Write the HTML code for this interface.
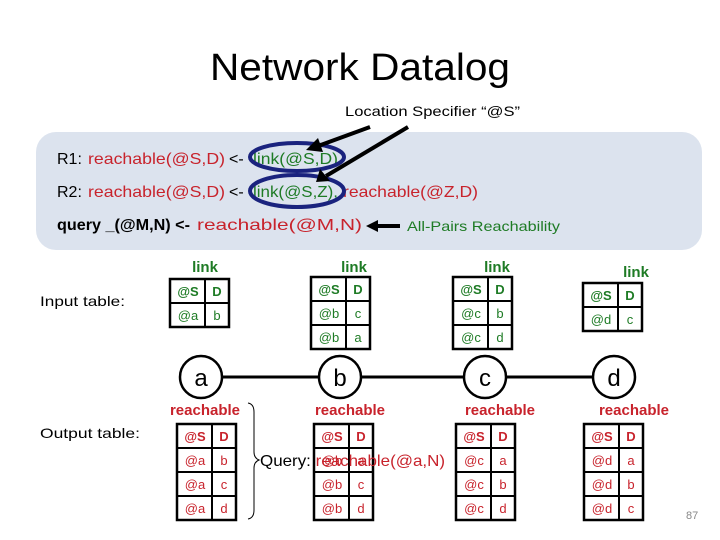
<!DOCTYPE html>
<html><head><meta charset="utf-8"><style>
html,body{margin:0;padding:0;background:#fff;}
svg{display:block;font-family:"Liberation Sans",sans-serif;}
.g{fill:#1e7b25}.r{fill:#c8232c}.k{fill:#000}
</style></head><body>
<svg width="720" height="540" viewBox="0 0 720 540" xmlns="http://www.w3.org/2000/svg">
<text x="210" y="80" textLength="300" lengthAdjust="spacingAndGlyphs" font-size="38" class="k">Network Datalog</text>
<text x="345" y="116" textLength="175" lengthAdjust="spacingAndGlyphs" font-size="14" class="k">Location Specifier “@S”</text>
<rect x="36" y="132" width="666" height="118" rx="20" fill="#dce3ee"/>
<g font-size="16">
<text x="57" y="164" class="k">R1:</text>
<text x="88" y="164" class="r" textLength="137" lengthAdjust="spacingAndGlyphs">reachable(@S,D)</text>
<text x="229" y="164" class="k">&lt;-</text>
<text x="253" y="164" class="g" textLength="85" lengthAdjust="spacingAndGlyphs">link(@S,D)</text>
<text x="57" y="197" class="k">R2:</text>
<text x="88" y="197" class="r" textLength="137" lengthAdjust="spacingAndGlyphs">reachable(@S,D)</text>
<text x="229" y="197" class="k">&lt;-</text>
<text x="253" y="197" class="g" textLength="85" lengthAdjust="spacingAndGlyphs">link(@S,Z),</text>
<text x="343" y="197" class="r" textLength="135" lengthAdjust="spacingAndGlyphs">reachable(@Z,D)</text>
<text x="57" y="230" font-weight="bold" class="k" textLength="133" lengthAdjust="spacingAndGlyphs">query _(@M,N) &lt;-</text>
<text x="197" y="230" class="r" textLength="165" lengthAdjust="spacingAndGlyphs">reachable(@M,N)</text>
</g>
<text x="407" y="231" font-size="14" class="g" textLength="153" lengthAdjust="spacingAndGlyphs">All-Pairs Reachability</text>
<g fill="none" stroke="#1a237e" stroke-width="4">
<ellipse cx="297" cy="157" rx="47" ry="14"/>
<ellipse cx="297" cy="191" rx="47" ry="16"/>
</g>
<g stroke="#000" stroke-width="4">
<line x1="370" y1="127" x2="318" y2="146"/>
<line x1="408" y1="127" x2="326" y2="176"/>
<line x1="400" y1="226" x2="375" y2="226"/>
</g>
<polygon points="306,150 318,138 323,152" fill="#000"/>
<polygon points="316,182 320,169 330,181" fill="#000"/>
<polygon points="366,226 378,220 378,232" fill="#000"/>

<text x="40" y="306" font-size="14" class="k" textLength="85" lengthAdjust="spacingAndGlyphs">Input table:</text>
<text x="40" y="438" font-size="14" class="k" textLength="100" lengthAdjust="spacingAndGlyphs">Output table:</text>

<g font-size="15" font-weight="bold" class="g" text-anchor="middle">
<text x="205" y="272">link</text><text x="354" y="272">link</text><text x="497" y="272">link</text><text x="636" y="277">link</text>
</g>
<g font-size="15" font-weight="bold" class="r" text-anchor="middle">
<text x="205" y="415">reachable</text><text x="350" y="415">reachable</text><text x="500" y="415">reachable</text><text x="634" y="415">reachable</text>
</g>

<g fill="#fff" stroke="#000" stroke-width="2.5">
<rect x="170" y="279" width="59" height="48"/>
<rect x="311" y="277" width="59" height="72"/>
<rect x="453" y="277" width="59" height="72"/>
<rect x="583" y="283" width="59" height="48"/>
<rect x="177" y="424" width="59" height="96"/>
<rect x="314" y="424" width="59" height="96"/>
<rect x="456" y="424" width="59" height="96"/>
<rect x="584" y="424" width="59" height="96"/>
</g>
<g stroke="#000" stroke-width="2">
<line x1="205" y1="279" x2="205" y2="327"/><line x1="170" y1="303" x2="229" y2="303"/>
<line x1="346" y1="277" x2="346" y2="349"/><line x1="311" y1="301" x2="370" y2="301"/><line x1="311" y1="325" x2="370" y2="325"/>
<line x1="488" y1="277" x2="488" y2="349"/><line x1="453" y1="301" x2="512" y2="301"/><line x1="453" y1="325" x2="512" y2="325"/>
<line x1="618" y1="283" x2="618" y2="331"/><line x1="583" y1="307" x2="642" y2="307"/>
<line x1="212" y1="424" x2="212" y2="520"/><line x1="177" y1="448" x2="236" y2="448"/><line x1="177" y1="472" x2="236" y2="472"/><line x1="177" y1="496" x2="236" y2="496"/>
<line x1="349" y1="424" x2="349" y2="520"/><line x1="314" y1="448" x2="373" y2="448"/><line x1="314" y1="472" x2="373" y2="472"/><line x1="314" y1="496" x2="373" y2="496"/>
<line x1="491" y1="424" x2="491" y2="520"/><line x1="456" y1="448" x2="515" y2="448"/><line x1="456" y1="472" x2="515" y2="472"/><line x1="456" y1="496" x2="515" y2="496"/>
<line x1="619" y1="424" x2="619" y2="520"/><line x1="584" y1="448" x2="643" y2="448"/><line x1="584" y1="472" x2="643" y2="472"/><line x1="584" y1="496" x2="643" y2="496"/>
</g>
<g font-size="13" class="g" text-anchor="middle">
<text x="188" y="296" font-weight="bold">@S</text><text x="217" y="296" font-weight="bold">D</text>
<text x="188" y="320">@a</text><text x="217" y="320">b</text>
<text x="329" y="294" font-weight="bold">@S</text><text x="358" y="294" font-weight="bold">D</text>
<text x="329" y="318">@b</text><text x="358" y="318">c</text>
<text x="329" y="342">@b</text><text x="358" y="342">a</text>
<text x="471" y="294" font-weight="bold">@S</text><text x="500" y="294" font-weight="bold">D</text>
<text x="471" y="318">@c</text><text x="500" y="318">b</text>
<text x="471" y="342">@c</text><text x="500" y="342">d</text>
<text x="601" y="300" font-weight="bold">@S</text><text x="630" y="300" font-weight="bold">D</text>
<text x="601" y="324">@d</text><text x="630" y="324">c</text>
</g>
<g font-size="13" class="r" text-anchor="middle">
<text x="195" y="441" font-weight="bold">@S</text><text x="224" y="441" font-weight="bold">D</text>
<text x="195" y="465">@a</text><text x="224" y="465">b</text>
<text x="195" y="489">@a</text><text x="224" y="489">c</text>
<text x="195" y="513">@a</text><text x="224" y="513">d</text>
<text x="332" y="441" font-weight="bold">@S</text><text x="361" y="441" font-weight="bold">D</text>
<text x="332" y="465">@b</text><text x="361" y="465">a</text>
<text x="332" y="489">@b</text><text x="361" y="489">c</text>
<text x="332" y="513">@b</text><text x="361" y="513">d</text>
<text x="474" y="441" font-weight="bold">@S</text><text x="503" y="441" font-weight="bold">D</text>
<text x="474" y="465">@c</text><text x="503" y="465">a</text>
<text x="474" y="489">@c</text><text x="503" y="489">b</text>
<text x="474" y="513">@c</text><text x="503" y="513">d</text>
<text x="602" y="441" font-weight="bold">@S</text><text x="631" y="441" font-weight="bold">D</text>
<text x="602" y="465">@d</text><text x="631" y="465">a</text>
<text x="602" y="489">@d</text><text x="631" y="489">b</text>
<text x="602" y="513">@d</text><text x="631" y="513">c</text>
</g>

<g stroke="#000" stroke-width="3">
<line x1="222" y1="377" x2="319" y2="377"/>
<line x1="361" y1="377" x2="464" y2="377"/>
<line x1="506" y1="377" x2="593" y2="377"/>
</g>
<g fill="#fff" stroke="#000" stroke-width="2.5">
<circle cx="201" cy="377" r="21"/><circle cx="340" cy="377" r="21"/><circle cx="485" cy="377" r="21"/><circle cx="614" cy="377" r="21"/>
</g>
<g font-size="24" text-anchor="middle" class="k">
<text x="201" y="386">a</text><text x="340" y="386">b</text><text x="485" y="386">c</text><text x="614" y="386">d</text>
</g>
<path d="M248,403 Q254,404 254,412 L254,452 Q254,458 259,460 Q254,462 254,468 L254,510 Q254,518 248,519" fill="none" stroke="#000" stroke-width="1"/>
<text x="260" y="466" font-size="16" textLength="185" lengthAdjust="spacingAndGlyphs"><tspan class="k">Query: </tspan><tspan class="r">reachable(@a,N)</tspan></text>
<text x="686" y="519" font-size="11" fill="#888">87</text>
</svg>
</body></html>
